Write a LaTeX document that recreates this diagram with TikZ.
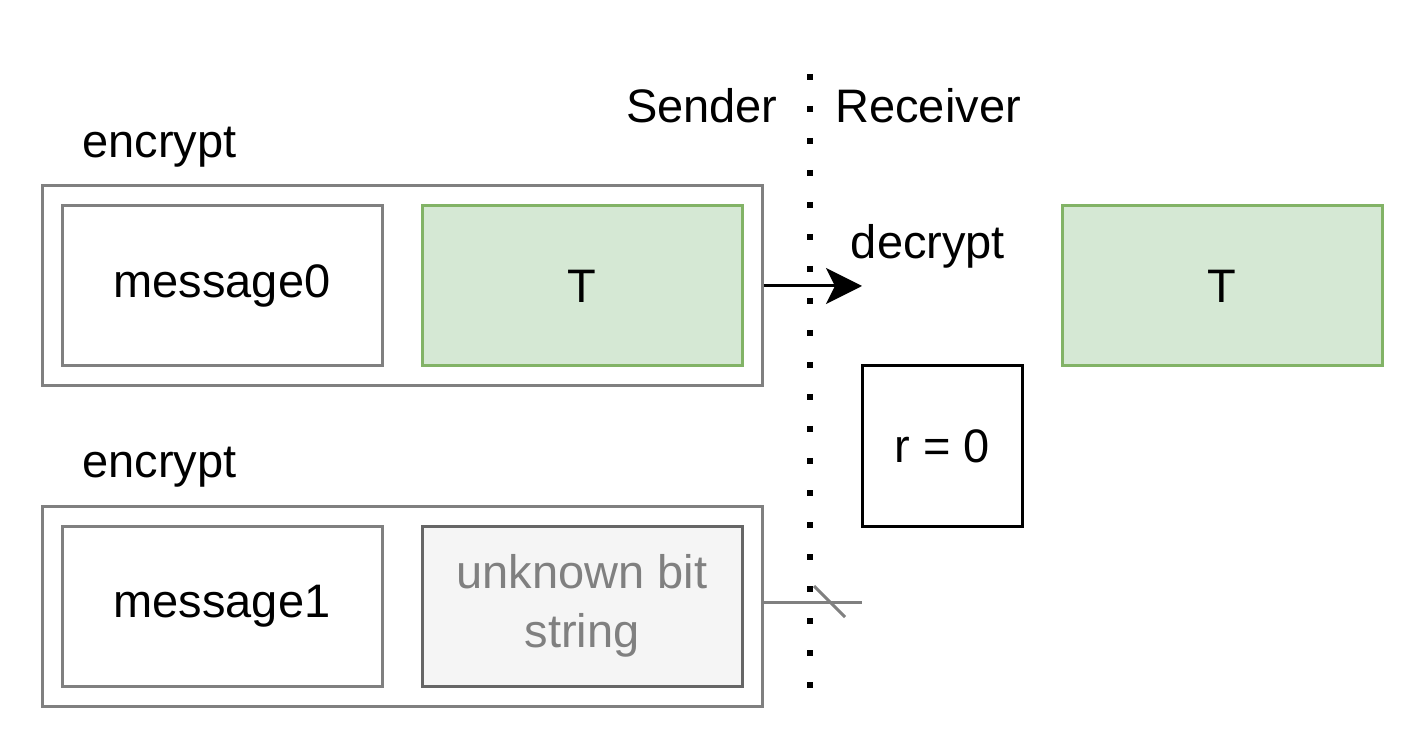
\documentclass[tikz,border=0pt]{standalone}
\usepackage{fontspec}
\setmainfont{Liberation Sans}
\usetikzlibrary{arrows.meta}
\definecolor{grayline}{HTML}{808080}
\definecolor{greenfill}{HTML}{D5E8D4}
\definecolor{greenline}{HTML}{82B366}
\definecolor{lightfill}{HTML}{F5F5F5}
\definecolor{darkgray}{HTML}{666666}
\tikzset{
  box/.style={draw=grayline, line width=1.5pt, minimum width=160pt, minimum height=80pt, inner sep=0pt, font=\fontsize{23.5}{29.5}\selectfont, align=center},
  outerbox/.style={draw=grayline, line width=1.5pt, minimum width=360pt, minimum height=100pt, inner sep=0pt},
  greenbox/.style={box, fill=greenfill, draw=greenline},
  lbl/.style={font=\fontsize{23.5}{28}\selectfont, inner sep=0pt},
}
\begin{document}
\begin{tikzpicture}[x=0.5pt,y=-0.5pt]
\useasboundingbox (0,0) rectangle (1424,748);
% dotted separator
\coordinate (dtop) at (810,74);
\coordinate (dbot) at (810,690);
\draw[line width=3pt, dash pattern=on 3pt off 13pt] (dtop) -- (dbot);
\node[lbl, anchor=east] (sender) at (778,106) {Sender};
\node[lbl, anchor=west] (receiver) at (835,106) {Receiver};
% top group
\node[outerbox] (outer0) at (402,286) {};
\node[box] (m0) at (222,286) {message0};
\node[greenbox] (t0) at (582,286) {T};
\node[lbl, anchor=west] (enc0) at (82,147) {encrypt};
% bottom group
\node[outerbox] (outer1) at (402,606) {};
\node[box] (m1) at (222,606) {message1};
\node[box, fill=lightfill, draw=darkgray, text=grayline] (u1) at (582,606) {unknown bit\\string};
\node[lbl, anchor=west] (enc1) at (82,467) {encrypt};
% receiver side
\node[lbl] (dec) at (928,246) {decrypt};
\node[greenbox] (t1) at (1222,286) {T};
\node[draw=black, line width=1.5pt, minimum width=80pt, minimum height=80pt, inner sep=0pt, font=\fontsize{23.5}{28}\selectfont] (r) at (942,446) {r = 0};
% arrow
\coordinate (aend) at (862,286);
\draw[line width=1.5pt, -{Stealth[length=18pt,width=18pt,inset=4.5pt]}] (outer0.east) -- (aend);
% blocked line
\coordinate (bend) at (862,602);
\coordinate (s1) at (814,586);
\coordinate (s2) at (845,617);
\draw[grayline, line width=1.5pt] (outer1.east |- bend) -- (bend);
\draw[grayline, line width=1.5pt] (s1) -- (s2);
\end{tikzpicture}
\end{document}
